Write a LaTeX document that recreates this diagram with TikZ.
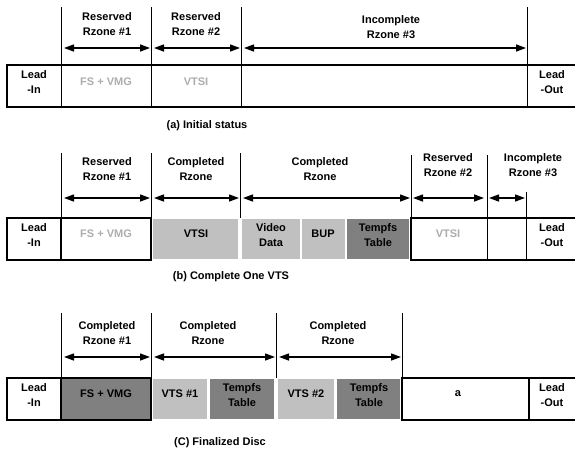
\documentclass[tikz,border=0pt]{standalone}
\usepackage{fontspec}
\setmainfont{Liberation Sans}
\usetikzlibrary{arrows.meta}
\definecolor{cellgray}{HTML}{C0C0C0}
\definecolor{tempgray}{HTML}{808080}
\definecolor{fadedgray}{HTML}{ADADAD}
\begin{document}
\begin{tikzpicture}[x=1pt,y=-1pt,
  txt/.style={font=\bfseries\fontsize{11}{15}\selectfont, align=center, inner sep=0pt},
  faint/.style={txt, text=fadedgray},
  rule/.style={line width=0.9pt},
  frame/.style={line width=1.3pt},
  span/.style={line width=1.3pt, {Triangle[length=10pt,width=7pt]}-{Triangle[length=10pt,width=7pt]}},
  light/.style={fill=cellgray},
  dark/.style={fill=tempgray}]
\useasboundingbox (0,0) rectangle (575,453);
\fill[white] (0,0) rectangle (575,453);

% ---------- (a) Initial status ----------
\draw[rule] (61,7) -- (61,107) (151,7) -- (151,107) (241,7) -- (241,107) (527,7) -- (527,107);
\draw[frame] (580,65) -- (7,65) -- (7,107) -- (580,107);
\coordinate (a1l) at (64,48);  \coordinate (a1r) at (150,48);
\coordinate (a2l) at (154,48); \coordinate (a2r) at (240,48);
\coordinate (a3l) at (244,48); \coordinate (a3r) at (526,48);
\draw[span] (a1l) -- (a1r);
\draw[span] (a2l) -- (a2r);
\draw[span] (a3l) -- (a3r);
\node[txt] (a-rz1) at (107,24) {Reserved\\Rzone \#1};
\node[txt] (a-rz2) at (196,24) {Reserved\\Rzone \#2};
\node[txt] (a-rz3) at (391,27) {Incomplete\\Rzone \#3};
\node[txt] (a-in) at (34,82) {Lead\\-In};
\node[faint] (a-fs) at (106,82) {FS + VMG};
\node[faint] (a-vtsi) at (196,82) {VTSI};
\node[txt] (a-out) at (552,82) {Lead\\-Out};
\node[txt] (a-cap) at (207,126) {(a) Initial status};

% ---------- (b) Complete One VTS ----------
\fill[light] (153,219) rectangle (238,259);
\fill[light] (242,219) rectangle (300,259);
\fill[light] (302,219) rectangle (345,259);
\fill[dark]  (347,219) rectangle (409,259);
\draw[rule] (61,153) -- (61,260) (151,153) -- (151,218) (240,153) -- (240,218)
            (411,155) -- (411,260) (487,155) -- (487,260) (526,192) -- (526,260);
\draw[frame] (7,218) rectangle (61,260);
\draw[frame] (61,218) rectangle (151,260);
\draw[frame] (580,218) -- (411,218) -- (411,260) -- (580,260);
\coordinate (b1l) at (64,198);  \coordinate (b1r) at (150,198);
\coordinate (b2l) at (154,198); \coordinate (b2r) at (239,198);
\coordinate (b3l) at (243,198); \coordinate (b3r) at (410,198);
\coordinate (b4l) at (413,198); \coordinate (b4r) at (484,198);
\coordinate (b5l) at (489,198); \coordinate (b5r) at (525,198);
\draw[span] (b1l) -- (b1r);
\draw[span] (b2l) -- (b2r);
\draw[span] (b3l) -- (b3r);
\draw[span] (b4l) -- (b4r);
\draw[span] (b5l) -- (b5r);
\node[txt] (b-rz1) at (107,169) {Reserved\\Rzone \#1};
\node[txt] (b-cz1) at (196,169) {Completed\\Rzone};
\node[txt] (b-cz2) at (320,169) {Completed\\Rzone};
\node[txt] (b-rz2) at (448,165) {Reserved\\Rzone \#2};
\node[txt] (b-rz3) at (533,165) {Incomplete\\Rzone \#3};
\node[txt] (b-in) at (34,235) {Lead\\-In};
\node[faint] (b-fs) at (106,234) {FS + VMG};
\node[txt] (b-vtsi) at (196,234) {VTSI};
\node[txt] (b-video) at (271,235) {Video\\Data};
\node[txt] (b-bup) at (323,234) {BUP};
\node[txt] (b-temp) at (378,235) {Tempfs\\Table};
\node[faint] (b-vtsi2) at (448,234) {VTSI};
\node[txt] (b-out) at (552,235) {Lead\\-Out};
\node[txt] (b-cap) at (231,277) {(b) Complete One VTS};

% ---------- (C) Finalized Disc ----------
\fill[light] (153,379) rectangle (207,419);
\fill[dark]  (210,379) rectangle (274,419);
\fill[light] (278,379) rectangle (334,419);
\fill[dark]  (337,379) rectangle (400,419);
\draw[rule] (61,313) -- (61,420) (151,313) -- (151,378) (276,313) -- (276,378) (402,313) -- (402,420);
\draw[frame] (7,378) rectangle (61,420);
\draw[frame, dark] (61,378) rectangle (151,420);
\draw[frame] (580,378) -- (402,378) -- (402,420) -- (580,420) (529,378) -- (529,420);
\coordinate (c1l) at (64,357);  \coordinate (c1r) at (150,357);
\coordinate (c2l) at (154,357); \coordinate (c2r) at (275,357);
\coordinate (c3l) at (279,357); \coordinate (c3r) at (401,357);
\draw[span] (c1l) -- (c1r);
\draw[span] (c2l) -- (c2r);
\draw[span] (c3l) -- (c3r);
\node[txt] (c-cz1) at (107,333) {Completed\\Rzone \#1};
\node[txt] (c-cz2) at (208,333) {Completed\\Rzone};
\node[txt] (c-cz3) at (338,333) {Completed\\Rzone};
\node[txt] (c-in) at (34,395) {Lead\\-In};
\node[txt] (c-fs) at (106,394) {FS + VMG};
\node[txt] (c-vts1) at (180,394) {VTS \#1};
\node[txt] (c-temp1) at (242,395) {Tempfs\\Table};
\node[txt] (c-vts2) at (306,394) {VTS \#2};
\node[txt] (c-temp2) at (369,395) {Tempfs\\Table};
\node[txt] (c-free) at (458,394) {a};
\node[txt] (c-out) at (552,395) {Lead\\-Out};
\node[txt] (c-cap) at (220,443) {(C) Finalized Disc};
\end{tikzpicture}
\end{document}
